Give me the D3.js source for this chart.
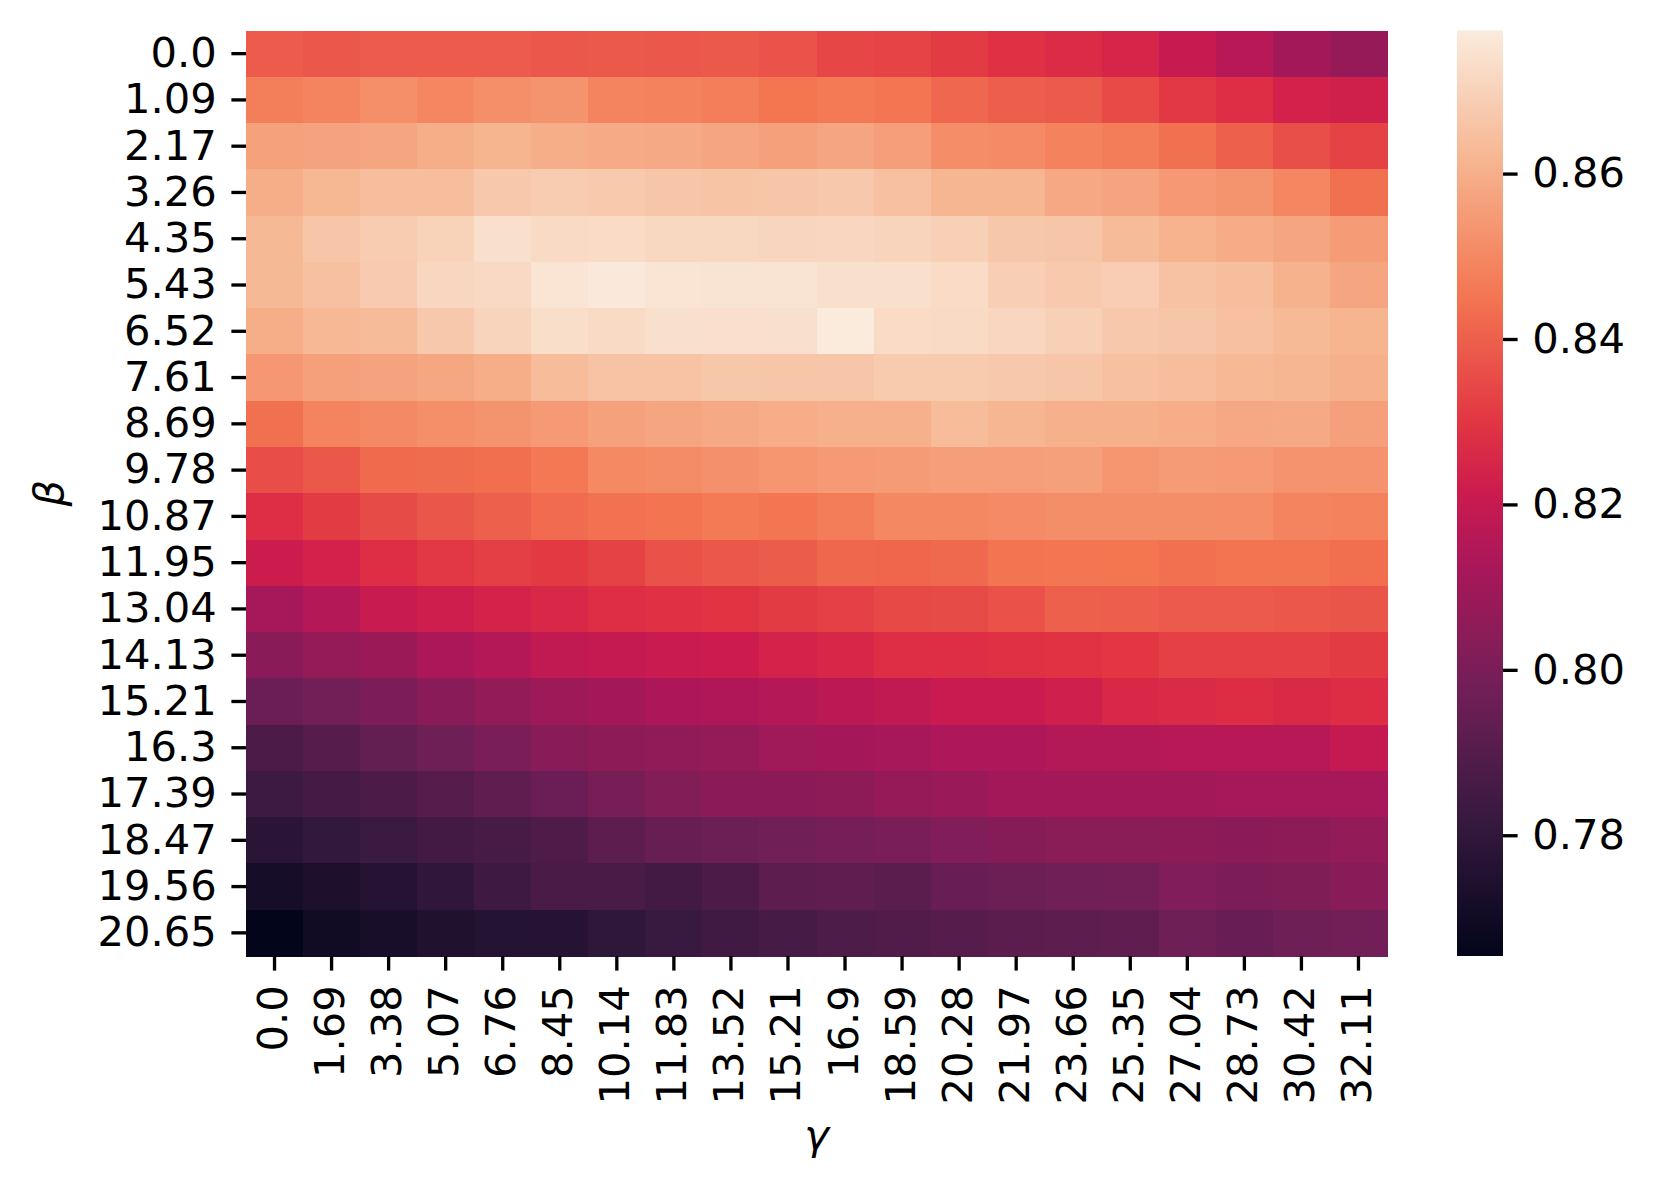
<!DOCTYPE html>
<html>
<head>
<meta charset="utf-8">
<script src="https://cdn.jsdelivr.net/npm/d3@7"></script>
<style>
  html, body { margin: 0; padding: 0; background: #ffffff; }
  svg { display: block; }
  text { font-family: "DejaVu Sans", sans-serif; }
</style>
</head>
<body>
<svg id="chart" width="1660" height="1197"></svg>
<script>
// ---------------- data ----------------
const gammaLabels = ["0.0","1.69","3.38","5.07","6.76","8.45","10.14","11.83","13.52","15.21","16.9","18.59","20.28","21.97","23.66","25.35","27.04","28.73","30.42","32.11"];
const betaLabels = ["0.0","1.09","2.17","3.26","4.35","5.43","6.52","7.61","8.69","9.78","10.87","11.95","13.04","14.13","15.21","16.3","17.39","18.47","19.56","20.65"];
const colorbarTicks = [0.78, 0.80, 0.82, 0.84, 0.86];

// one row per beta value, one column per gamma value
const values = [
  [0.8390,0.8380,0.8390,0.8390,0.8390,0.8380,0.8385,0.8380,0.8385,0.8370,0.8338,0.8331,0.8312,0.8287,0.8269,0.8250,0.8201,0.8162,0.8108,0.8074],
  [0.8476,0.8489,0.8518,0.8497,0.8518,0.8530,0.8489,0.8484,0.8474,0.8453,0.8463,0.8450,0.8417,0.8396,0.8386,0.8348,0.8305,0.8278,0.8238,0.8229],
  [0.8564,0.8569,0.8574,0.8598,0.8613,0.8598,0.8587,0.8585,0.8577,0.8561,0.8574,0.8556,0.8512,0.8507,0.8484,0.8471,0.8439,0.8400,0.8360,0.8329],
  [0.8598,0.8622,0.8642,0.8642,0.8671,0.8682,0.8674,0.8665,0.8660,0.8665,0.8671,0.8648,0.8619,0.8619,0.8582,0.8571,0.8541,0.8530,0.8497,0.8439],
  [0.8628,0.8662,0.8683,0.8700,0.8741,0.8724,0.8726,0.8718,0.8718,0.8709,0.8712,0.8706,0.8694,0.8668,0.8665,0.8633,0.8610,0.8593,0.8577,0.8548],
  [0.8628,0.8648,0.8680,0.8712,0.8721,0.8756,0.8768,0.8756,0.8750,0.8753,0.8741,0.8741,0.8726,0.8689,0.8674,0.8686,0.8654,0.8642,0.8607,0.8577],
  [0.8598,0.8625,0.8633,0.8671,0.8706,0.8735,0.8724,0.8741,0.8738,0.8741,0.8773,0.8726,0.8724,0.8712,0.8694,0.8671,0.8662,0.8651,0.8630,0.8613],
  [0.8538,0.8561,0.8569,0.8580,0.8598,0.8636,0.8657,0.8657,0.8668,0.8665,0.8665,0.8677,0.8677,0.8671,0.8665,0.8651,0.8642,0.8625,0.8619,0.8602],
  [0.8439,0.8489,0.8505,0.8518,0.8530,0.8546,0.8564,0.8574,0.8585,0.8595,0.8605,0.8605,0.8636,0.8619,0.8602,0.8605,0.8595,0.8582,0.8585,0.8561],
  [0.8355,0.8381,0.8424,0.8429,0.8434,0.8458,0.8502,0.8510,0.8520,0.8536,0.8546,0.8548,0.8556,0.8556,0.8561,0.8536,0.8551,0.8546,0.8528,0.8528],
  [0.8278,0.8312,0.8350,0.8377,0.8400,0.8427,0.8441,0.8448,0.8463,0.8451,0.8472,0.8499,0.8499,0.8507,0.8515,0.8515,0.8515,0.8512,0.8489,0.8484],
  [0.8217,0.8238,0.8278,0.8305,0.8322,0.8307,0.8329,0.8367,0.8381,0.8391,0.8420,0.8415,0.8422,0.8448,0.8451,0.8453,0.8439,0.8448,0.8448,0.8434],
  [0.8116,0.8152,0.8205,0.8223,0.8241,0.8256,0.8278,0.8287,0.8295,0.8312,0.8324,0.8346,0.8350,0.8365,0.8400,0.8396,0.8386,0.8386,0.8381,0.8374],
  [0.8040,0.8071,0.8089,0.8129,0.8156,0.8186,0.8198,0.8207,0.8217,0.8241,0.8253,0.8278,0.8278,0.8287,0.8290,0.8300,0.8324,0.8324,0.8324,0.8312],
  [0.7960,0.7982,0.8008,0.8040,0.8063,0.8092,0.8110,0.8134,0.8142,0.8152,0.8171,0.8186,0.8207,0.8207,0.8226,0.8256,0.8265,0.8275,0.8262,0.8275],
  [0.7876,0.7903,0.7939,0.7969,0.8000,0.8034,0.8048,0.8058,0.8068,0.8100,0.8110,0.8116,0.8137,0.8137,0.8150,0.8150,0.8163,0.8163,0.8163,0.8195],
  [0.7836,0.7857,0.7879,0.7903,0.7928,0.7958,0.7993,0.8021,0.8045,0.8045,0.8048,0.8074,0.8084,0.8105,0.8105,0.8105,0.8105,0.8116,0.8116,0.8116],
  [0.7779,0.7804,0.7830,0.7849,0.7866,0.7885,0.7922,0.7950,0.7963,0.7977,0.7988,0.7998,0.8018,0.8029,0.8043,0.8043,0.8050,0.8045,0.8050,0.8063],
  [0.7715,0.7740,0.7766,0.7798,0.7838,0.7871,0.7871,0.7852,0.7879,0.7922,0.7928,0.7914,0.7952,0.7963,0.7977,0.7979,0.8018,0.8008,0.8013,0.8034],
  [0.7654,0.7699,0.7724,0.7747,0.7763,0.7766,0.7795,0.7822,0.7844,0.7860,0.7882,0.7890,0.7903,0.7914,0.7925,0.7928,0.7969,0.7952,0.7969,0.7982]
];

// ---------------- colormap (seaborn "rocket" approximation) ----------------
const rocketPos = [0, 1/7, 2/7, 3/7, 0.5, 4/7, 5/7, 6/7, 1];
const rocketCol = ["#03051a","#35193e","#701f57","#ad1759","#cb1b4f","#e13342","#f37651","#f6b48f","#faebdd"];
const rocket = d3.scaleLinear().domain(rocketPos).range(rocketCol).interpolate(d3.interpolateRgb).clamp(true);

// ---------------- layout ----------------
const FS = 41.67;
const TICK = 14.6;
const PAD = 14.6;
const plot = { left: 246, right: 1387, top: 30.5, bottom: 956 };
const cbar = { left: 1457, right: 1503 };

const svg = d3.select("#chart");
svg.append("rect").attr("width", 1660).attr("height", 1197).attr("fill", "#fff");

const cells = [];
values.forEach((row, i) => row.forEach((v, j) => cells.push({ beta: betaLabels[i], gamma: gammaLabels[j], v })));
const flat = cells.map(d => d.v);
const [vmin, vmax] = d3.extent(flat);
const color = v => rocket((v - vmin) / (vmax - vmin));

const x = d3.scaleBand().domain(gammaLabels).range([plot.left, plot.right]);
const y = d3.scaleBand().domain(betaLabels).range([plot.top, plot.bottom]);

svg.append("g")
  .selectAll("rect")
  .data(cells)
  .join("rect")
  .attr("x", d => x(d.gamma))
  .attr("y", d => y(d.beta))
  .attr("width", x.bandwidth() + 0.5)
  .attr("height", y.bandwidth() + 0.5)
  .attr("fill", d => color(d.v))
  .attr("shape-rendering", "crispEdges");

// y axis
const gy = svg.append("g")
  .attr("transform", `translate(${plot.left},0)`)
  .call(d3.axisLeft(y).tickSize(TICK).tickPadding(PAD));
gy.select(".domain").remove();
gy.selectAll(".tick line").attr("stroke", "#000").attr("stroke-width", 3.33);
gy.selectAll(".tick text").attr("font-size", FS).attr("fill", "#000").attr("dy", "0.32em")
  .attr("font-family", "DejaVu Sans");

// x axis
const gx = svg.append("g")
  .attr("transform", `translate(0,${plot.bottom})`)
  .call(d3.axisBottom(x).tickSize(TICK).tickPadding(PAD));
gx.select(".domain").remove();
gx.selectAll(".tick line").attr("stroke", "#000").attr("stroke-width", 3.33);
gx.selectAll(".tick text")
  .attr("font-size", FS).attr("fill", "#000").attr("font-family", "DejaVu Sans")
  .attr("transform", "rotate(-90)")
  .attr("text-anchor", "end")
  .attr("x", -(TICK + PAD))
  .attr("y", 0)
  .attr("dy", "0.30em");

// axis labels
svg.append("text")
  .attr("transform", `translate(63,${(plot.top + plot.bottom) / 2}) rotate(-90)`)
  .attr("text-anchor", "middle")
  .attr("font-size", FS).attr("font-style", "italic")
  .attr("font-family", "DejaVu Sans")
  .text("β");
svg.append("text")
  .attr("x", (plot.left + plot.right) / 2)
  .attr("y", 1149)
  .attr("text-anchor", "middle")
  .attr("font-size", FS).attr("font-style", "italic")
  .attr("font-family", "DejaVu Sans")
  .text("γ");

// colorbar
const cy = d3.scaleLinear().domain([vmin, vmax]).range([plot.bottom, plot.top]);
const defs = svg.append("defs");
const grad = defs.append("linearGradient").attr("id", "cbgrad")
  .attr("x1", 0).attr("y1", 1).attr("x2", 0).attr("y2", 0);
d3.range(0, 1.0001, 1 / 64).forEach(t => {
  grad.append("stop").attr("offset", t).attr("stop-color", rocket(t));
});
svg.append("rect")
  .attr("x", cbar.left).attr("y", cy(vmax))
  .attr("width", cbar.right - cbar.left)
  .attr("height", cy(vmin) - cy(vmax))
  .attr("fill", "url(#cbgrad)");

const gc = svg.append("g")
  .attr("transform", `translate(${cbar.right},0)`)
  .call(d3.axisRight(cy).tickValues(colorbarTicks).tickFormat(d3.format(".2f")).tickSize(TICK).tickPadding(PAD));
gc.select(".domain").remove();
gc.selectAll(".tick line").attr("stroke", "#000").attr("stroke-width", 3.33);
gc.selectAll(".tick text").attr("font-size", FS).attr("fill", "#000").attr("dy", "0.32em")
  .attr("font-family", "DejaVu Sans");
</script>
</body>
</html>
